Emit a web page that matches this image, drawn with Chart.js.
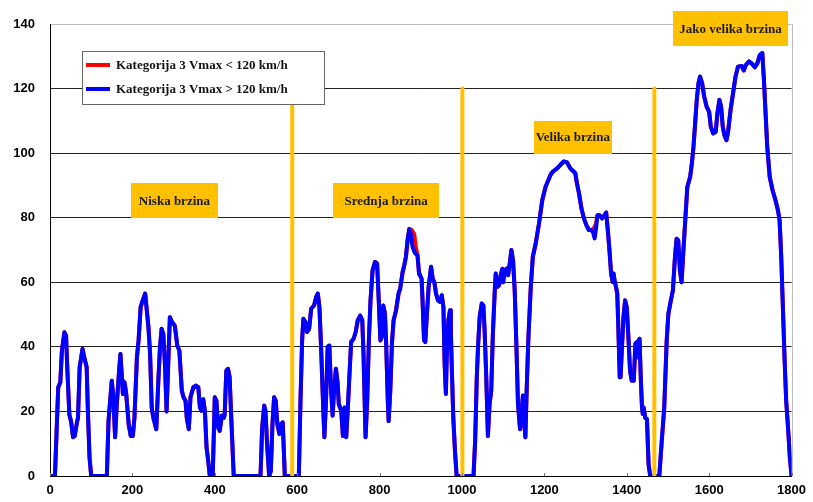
<!DOCTYPE html>
<html>
<head>
<meta charset="utf-8">
<script src="https://cdn.jsdelivr.net/npm/chart.js@4.4.1/dist/chart.umd.min.js"></script>
<style>
  html, body { margin: 0; padding: 0; background: #fff; }
</style>
</head>
<body>
<canvas id="chart" width="813" height="502"></canvas>
<script>
// speed trace [time s, speed km/h], split by phase
const lowPhase = [[0,0],[12,0],[20,27.5],[25,29],[29,39],[35,44.5],[39,43.5],[41.5,34.7],[47,19],[51,17],[56,12],[60,12.4],[66,17],[68,18],[72,33.7],[79,39.4],[84,36.3],[89,33.7],[92,20],[96,5.7],[100,0],[138,0],[142,17],[150,29.5],[154,24],[158,12],[162,22],[168,33],[171,37.8],[175,29.5],[177,25.4],[181,29],[185,25.4],[191,16],[196,12.4],[201,12.4],[205,18],[211,36.8],[215,42],[220,52.3],[224,54],[231,56.5],[235,51.3],[239,46],[243,37.8],[247,21],[251,18],[258,14.5],[263,29.5],[267,40],[271,45.6],[275,44],[279,34.7],[283,20],[287,34.7],[291,49.2],[295,48],[303,46.5],[309,40.4],[314,38.9],[320,26.4],[324,24.4],[329,23.3],[332,18],[337,14.5],[341,24.4],[348,27.5],[354,28],[360,27.5],[364,21.2],[368,20.2],[372,23.8],[376,20.2],[380,8.8],[384,4.7],[388,0],[395,0],[400,24.4],[404,23.3],[408,15],[412,14],[417,18.7],[422,18],[424,19],[428,32.6],[432,33.2],[436,30.6],[440,18],[446,0],[511,0],[515,15],[520,21.8],[523,20.2],[527,9.8],[532,0],[536,1.5],[540,16],[544,24.4],[548,23.3],[552,16],[557,13],[561,16],[565,16.6],[570,0],[589,0]];

const mediumStart = [[604,0],[608,23.3],[612,42],[615,48.7],[620,47.7],[624,44.6],[629,45.6],[634,51.8],[641,52.8],[646,55.4],[650,56.5],[654,52.3],[658,40],[662,25.4],[666,12],[670,23.3],[674,40],[678,40.4],[682,27.5],[686,18.7],[690,27.5],[694,33.2],[698,29],[701,22.3],[707,20.2],[711,12.4],[715,21.2],[719,12],[723,21.2],[727,31.6],[731,41.5],[737,42.5],[742,44.6],[747,48.2],[753,49.7],[758,48.2],[761,37.8],[766,12],[770,23.3],[774,42],[778,54.4],[783,63.7],[789,66.3],[794,65.8],[798,54.4],[802,42],[805,43],[809,52.8],[813,50.3],[816,41],[820,23.3],[822,17],[826,26.4],[830,41],[834,48.2],[840,51.3],[846,56.5],[850,58],[856,63.2],[860,65.3],[864,67.9]];
const mediumPeakLow = [[868,73],[872,76.6],[878,76.2],[884,75],[888,71],[892,68.4]];
const mediumPeakHigh = [[868,73],[872,76.4],[876,75],[880,71],[886,69],[892,68.4]];
const mediumEnd = [[896,62.5],[898,62.2],[902,61.1],[904,55.4],[908,42],[911,41.5],[915,50.3],[919,58.5],[925,64.8],[929,61.1],[933,60],[937,56.5],[942,54.4],[947,53.9],[951,56],[955,52.3],[958,34.7],[961,25.4],[963,36.8],[967,48.2],[971,51.3],[973,45],[975,34.7],[979,18],[983,7.8],[987,0]];

const highStart = [[1028,0],[1032,10.9],[1036,30.6],[1039,40],[1043,49.2],[1048,53.4],[1052,52.8],[1055,45],[1059,30.6],[1063,12.4],[1067,22.3],[1071,26.4],[1075,44],[1080,58.5],[1082,62.7],[1085,58.5],[1090,59],[1094,62.2],[1098,64.2],[1100,60],[1104,63.7],[1108,64.2],[1112,62.2],[1117,66.8],[1120,70],[1124,66.8],[1128,57.5],[1132,41],[1136,22.3],[1141,14.5],[1144,19.2],[1148,24.9],[1150,18],[1154,12],[1157,26.4],[1161,42],[1167,58.5],[1172,67.9],[1179,72],[1187,78.2],[1195,85.5],[1203,89.6],[1215,93.3],[1221,94.3],[1231,95.3],[1239,96.4],[1247,97.4],[1255,97.1],[1263,95.3],[1271,94.3],[1275,93.8],[1279,90.7],[1284,87.6],[1290,82.9],[1296,79.8],[1302,77.7],[1308,76.2],[1313,76.2]];
const highDipLow = [[1318,76.4],[1322,77.2],[1325,78]];
const highDipHigh = [[1318,75.6],[1322,73.6],[1325,76.2]];
const highEnd = [[1329,80.8],[1334,80.8],[1340,79.8],[1346,80.8],[1350,81.6],[1354,76.2],[1358,70],[1362,62.7],[1366,60.1],[1368,62.7],[1371,60.1],[1374,58.5],[1377,56.5],[1380,44],[1383,30.6],[1385,30.6],[1388,38.9],[1392,49.2],[1396,54.4],[1400,52.3],[1404,43],[1408,32.6],[1412,29.5],[1417,29.5],[1421,41],[1425,41.5],[1426,36.8],[1429,42],[1431,42.5],[1434,30.6],[1437,21.2],[1439,19.2],[1441,21.2],[1445,18],[1449,17.6],[1453,3.6],[1457,0]];

const extraHighPhase = [[1479,0],[1485,10.9],[1491,21.2],[1497,42],[1501,50.2],[1507,54.3],[1512,57.5],[1517,67.8],[1521,73.5],[1525,73],[1529,63.7],[1533,60],[1537,68.8],[1543,81.3],[1547,89.5],[1554,92.7],[1558,96.8],[1562,102],[1566,109.2],[1570,116.5],[1574,121.6],[1578,123.7],[1583,121.6],[1588,117.5],[1594,114.4],[1600,112.8],[1604,108.2],[1610,106.1],[1616,106.6],[1620,112.3],[1625,116.5],[1629,114.4],[1633,108.2],[1637,105.6],[1642,104],[1646,106.6],[1652,113.4],[1658,118.5],[1664,123.7],[1670,126.8],[1679,127],[1684,125.6],[1689,127.3],[1697,128.4],[1703,127.8],[1711,126.6],[1717,127.8],[1723,130.4],[1729,131],[1733,122.7],[1737,112.3],[1741,102],[1747,92.7],[1754,88.5],[1761,85.4],[1767,82.3],[1771,79.2],[1775,67.8],[1779,52.3],[1783,36.7],[1787,23.3],[1791,16],[1796,5.7],[1800,0]];

const seriesNames = ['Kategorija 3 Vmax < 120 km/h', 'Kategorija 3 Vmax > 120 km/h'];
const phaseNames = ['Niska brzina', 'Srednja brzina', 'Velika brzina', 'Jako velika brzina'];
const phaseBounds = [588, 1001, 1467];   // vertical separators, time s
const phaseBoundTop = 120;
const xTicks = [0, 200, 400, 600, 800, 1000, 1200, 1400, 1600, 1800];
const yTicks = [0, 20, 40, 60, 80, 100, 120, 140];

const toPts = arr => arr.map(p => ({x: p[0], y: p[1]}));

const lowerVmax = [].concat(lowPhase, mediumStart, mediumPeakLow, mediumEnd, highStart, highDipLow, highEnd, extraHighPhase);
const higherVmax = [].concat(lowPhase, mediumStart, mediumPeakHigh, mediumEnd, highStart, highDipHigh, highEnd, extraHighPhase);

const ORANGE = '#FFC000';
const RED = '#FF0000';
const BLUE = '#0000FF';

// label boxes: centre in data units, size in px
const phaseBoxes = [
  {x: 302, y: 85.3, w: 87, h: 35},
  {x: 816, y: 85.3, w: 106, h: 35},
  {x: 1269, y: 105, w: 78, h: 33},
  {x: 1652, y: 138.7, w: 115, h: 35}
];

const datasets = [];
phaseBounds.forEach(t => {
  datasets.push({
    data: [{x: t, y: 0}, {x: t, y: phaseBoundTop}],
    borderColor: ORANGE, borderWidth: 4, pointRadius: 0, order: 0
  });
});
datasets.push({label: seriesNames[1], data: toPts(higherVmax), borderColor: BLUE, borderWidth: 4, pointRadius: 0, order: 1});
datasets.push({label: seriesNames[0], data: toPts(lowerVmax), borderColor: RED, borderWidth: 4, pointRadius: 0, order: 2});

const extras = {
  id: 'extras',
  afterDatasetsDraw(chart) {
    const {ctx, chartArea: a, scales: {x, y}} = chart;
    ctx.save();
    // right frame
    ctx.strokeStyle = '#bdbdbd';
    ctx.lineWidth = 1;
    ctx.beginPath();
    ctx.moveTo(Math.round(a.right) + 0.5, a.top);
    ctx.lineTo(Math.round(a.right) + 0.5, a.bottom);
    ctx.stroke();
    // small inner ticks on x axis
    ctx.strokeStyle = '#777';
    xTicks.forEach(v => {
      const px = Math.round(x.getPixelForValue(v)) + 0.5;
      ctx.beginPath();
      ctx.moveTo(px, a.bottom);
      ctx.lineTo(px, a.bottom - 3);
      ctx.stroke();
    });
    // phase label boxes
    ctx.font = 'bold 13px "Liberation Serif", "Times New Roman", serif';
    ctx.textAlign = 'center';
    ctx.textBaseline = 'middle';
    phaseBoxes.forEach((b, i) => {
      const cx = x.getPixelForValue(b.x);
      const cy = y.getPixelForValue(b.y);
      ctx.fillStyle = ORANGE;
      ctx.fillRect(Math.round(cx - b.w / 2), Math.round(cy - b.h / 2), b.w, b.h);
      ctx.fillStyle = '#1a1a1a';
      ctx.fillText(phaseNames[i], cx, cy + 1);
    });
    // legend
    ctx.fillStyle = '#fff';
    ctx.fillRect(82, 51, 242, 53);
    ctx.strokeStyle = '#666';
    ctx.strokeRect(82.5, 51.5, 242, 53);
    const rows = [{c: RED, yy: 65, t: seriesNames[0]}, {c: BLUE, yy: 89, t: seriesNames[1]}];
    ctx.textAlign = 'left';
    rows.forEach(r => {
      ctx.strokeStyle = r.c;
      ctx.lineWidth = 4;
      ctx.beginPath();
      ctx.moveTo(86, r.yy);
      ctx.lineTo(110, r.yy);
      ctx.stroke();
      ctx.fillStyle = '#111';
      ctx.fillText(r.t, 116, r.yy + 1);
    });
    ctx.restore();
  }
};

const tickFont = {family: '"Liberation Sans", Arial, sans-serif', size: 13, weight: 'bold'};

new Chart(document.getElementById('chart'), {
  type: 'line',
  data: {datasets},
  options: {
    responsive: false,
    animation: false,
    devicePixelRatio: 1,
    layout: {padding: {top: 24, right: 19, left: 0, bottom: 0}},
    plugins: {legend: {display: false}, tooltip: {enabled: false}},
    elements: {line: {tension: 0, borderJoinStyle: 'round', borderCapStyle: 'round'}},
    scales: {
      x: {
        type: 'linear', min: 0, max: 1800,
        afterBuildTicks: s => { s.ticks = xTicks.map(v => ({value: v})); },
        afterFit: s => { s.height = 26; },
        ticks: {font: tickFont, color: '#000', padding: 7, maxRotation: 0, callback: v => String(v)},
        grid: {drawOnChartArea: false, drawTicks: false},
        border: {color: '#000', width: 1}
      },
      y: {
        min: 0, max: 140,
        afterBuildTicks: s => { s.ticks = yTicks.map(v => ({value: v})); },
        afterFit: s => { s.width = 50; },
        ticks: {font: tickFont, color: '#000', padding: 15, callback: v => String(v)},
        grid: {
          drawTicks: false,
          color: c => (c.tick && c.tick.value === 140) ? '#bdbdbd' : '#222',
          lineWidth: 1
        },
        border: {color: '#000', width: 1}
      }
    }
  },
  plugins: [extras]
});
</script>
</body>
</html>
